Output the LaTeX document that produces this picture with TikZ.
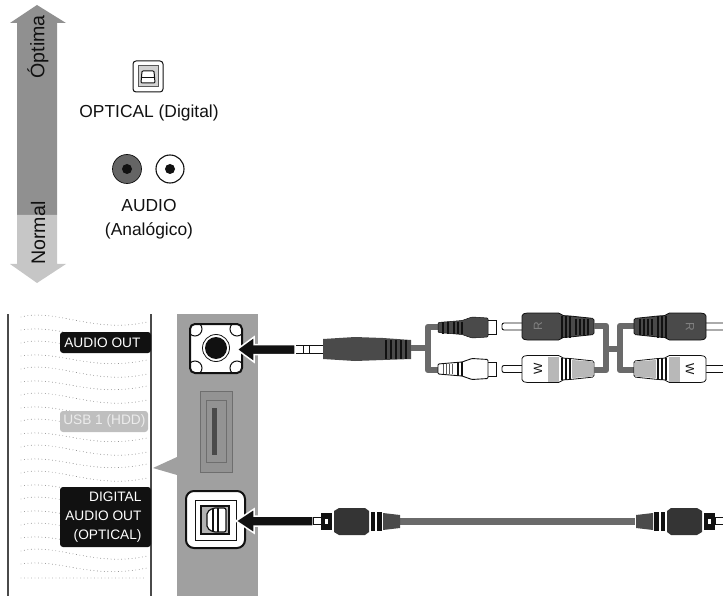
\documentclass[tikz,border=0pt]{standalone}
\usepackage{fontspec}
\setmainfont{Liberation Sans}
\usetikzlibrary{calc}
\definecolor{panel}{HTML}{A0A0A0}
\definecolor{ink}{HTML}{111111}
\definecolor{shell}{HTML}{4A4A4A}
\definecolor{wire}{HTML}{6A6A6A}
\definecolor{hatch}{HTML}{B8B8B8}
\tikzset{
  caption/.style={text=ink,font=\fontsize{17.4}{24}\selectfont,align=center},
  scalelabel/.style={rotate=90,text=ink,font=\fontsize{19.6}{20}\selectfont},
  tag/.style={text=white,font=\fontsize{13.7}{19}\selectfont,align=right,anchor=east},
  dots/.style={gray,line width=0.9pt,line cap=round,dash pattern=on 0pt off 3.5pt},
  cord/.style={wire,line width=6.5pt,line join=round},
  pointer/.style={fill=ink,draw=white,line width=1.5pt,line join=miter}
}
% male plug: pin tip at the origin, tail towards +x
\newcommand{\rcamale}[5]{%
  \draw[ink,fill=white,line width=0.9pt,rounded corners=2pt] (0,-3.5) rectangle (23,3.5);
  \fill[#1,draw=ink,line width=0.8pt,rounded corners=1.5pt] (20,-12) -- (24,-13.5) -- (58,-13.5) -- (60,-11) -- (68,-10.5) -- (92,-8)
     -- (92,8) -- (68,10.5) -- (60,11) -- (58,13.5) -- (24,13.5) -- (20,12) -- cycle;
  \fill[#2] (46,-12.5) rectangle (57,12.5);
  \fill[#2] (70,-9) -- (91,-7.5) -- (91,7.5) -- (70,9) -- cycle;
  \foreach \rib in {60,64,68} {
    \draw[ink,line width=1.3pt] (\rib,-11) -- (\rib,11);
  }
  \node[rotate=#5,text=#3,font=\fontsize{12}{12}\selectfont] at (36,0) {#4};
}
\begin{document}
\begin{tikzpicture}[x=1pt,y=-1pt]
  \useasboundingbox (0,0) rectangle (723,596);
  % quality scale
  \fill[panel!90!black] (37,5) -- (66,23) -- (57,23) -- (57,215) -- (17,215) -- (17,23) -- (10,23) -- cycle;
  \fill[gray!45] (17,215) -- (57,215) -- (57,264) -- (66,264) -- (37,283) -- (10,264) -- (17,264) -- cycle;
  \node[scalelabel] (best) at (38,47) {Óptima};
  \node[scalelabel] (normal) at (38,233) {Normal};
  % sockets of the legend
  \draw[ink,line width=1pt,fill=white,rounded corners=3pt] (133,61) rectangle (163,92);
  \draw[ink!70,line width=1pt,fill=gray!35] (138,66) rectangle (158,87);
  \draw[ink,line width=1pt,fill=white,rounded corners=1pt] (142,71) -- (154,71) -- (155,83) -- (141,83) -- cycle;
  \draw[ink,line width=0.8pt] (141,77) -- (155,77);
  \node[caption] (optical) at (149,113) {OPTICAL (Digital)};
  \draw[ink,line width=0.7pt,fill=shell!85] (127,169) circle (14.5);
  \fill[ink] (127,169) circle (5);
  \draw[ink,line width=1.1pt,fill=white] (170,169) circle (14);
  \fill[ink] (170,169) circle (5);
  \node[caption] (audio) at (149,219) {AUDIO\\(Analógico)};
  % back of the set
  \foreach \y in {314,340,...,548} {
    \draw[dots] (21,\y+3) .. controls (55,\y-6) and (95,\y+20) .. (147,\y+8);
    \draw[dots] (21,\y+16) .. controls (60,\y+10) and (90,\y+32) .. (147,\y+20);
  }
  \draw[dots] (21,578) -- (147,578);
  \fill[panel] (177,314) rectangle (258,596);
  \fill[panel] (153,468) -- (177,457) -- (177,475) -- cycle;
  \draw[shell,line width=1.5pt] (8,314) -- (8,596);
  \draw[shell,line width=1.2pt] (151,314) -- (151,596);
  \fill[ink,rounded corners=3pt] (151,332) -- (60,332) -- (60,353) -- (151,353) -- cycle;
  \node[tag] (audioout) at (144,343) {AUDIO OUT};
  \fill[gray!50,rounded corners=3pt] (148,411) -- (60,411) -- (60,432) -- (148,432) -- cycle;
  \node[tag,text=gray!15] (usb) at (149,421) {USB 1 (HDD)};
  \fill[ink,rounded corners=3pt] (151,487) -- (60,487) -- (60,547) -- (151,547) -- cycle;
  \node[tag] (digital) at (145,517) {DIGITAL\\AUDIO OUT\\(OPTICAL)};
  % audio jack
  \fill[white,rounded corners=5pt] (190,324) rectangle (242,373);
  \begin{scope}
    \clip[rounded corners=5pt] (190,324) rectangle (242,373);
    \foreach \cx/\cy in {195/329,237/329,195/368,237/368} {
      \draw[ink,line width=1pt] (\cx,\cy) circle (7);
    }
  \end{scope}
  \draw[ink,line width=2pt,rounded corners=5pt] (190,324) rectangle (242,373);
  \draw[ink,line width=0.8pt,fill=white] (216,348) circle (13.5);
  \fill[ink] (216,348) circle (11);
  % usb slot
  \draw[shell!80,line width=0.8pt,fill=panel!92!black] (200,391) rectangle (232,472);
  \draw[shell!80,line width=1pt] (206,400) rectangle (226,462);
  \fill[shell] (212,408) rectangle (217,455);
  % optical jack
  \draw[ink,line width=2pt,fill=white,rounded corners=8pt] (186,491) rectangle (245,548);
  \draw[ink,line width=1pt,fill=white] (195,500) rectangle (236,540);
  \draw[ink,line width=1.4pt,fill=gray!60] (201,506) rectangle (229,534);
  \draw[ink,line width=1.2pt,fill=white,rounded corners=2pt] (226,508) -- (213,508) -- (207,512) -- (207,528) -- (213,532) -- (226,532) -- cycle;
  \draw[ink,line width=1.6pt] (213,508) -- (213,532) (218,508) -- (218,532);
  % jack cable
  \draw[ink,fill=white,line width=0.8pt] (290,345) rectangle (323,353);
  \draw[ink,line width=1pt] (303,345) -- (303,353) (309,345) -- (309,353);
  \draw[pointer] (237,349.5) -- (254,337) -- (254,344.5) -- (295,344.5) -- (295,354.5) -- (254,354.5) -- (254,362) -- cycle;
  \fill[shell] (323,339) -- (355,337) -- (383,338) -- (411,340) -- (411,359) -- (383,360) -- (355,361) -- (323,359) -- cycle;
  \foreach \rib in {386,391,396,401,406} {
    \draw[ink,line width=1.6pt] (\rib,340) -- (\rib,359);
  }
  \draw[cord] (411,348) -- (428,348);
  \draw[cord] (438,327) -- (428,327) -- (428,370) -- (438,370);
  % female ends
  \begin{scope}[shift={(496,327.5)}]
    \draw[ink,fill=white,line width=0.8pt] (-10,-7) rectangle (0,7);
    \fill[shell,draw=ink,line width=0.5pt,rounded corners=1pt] (-8,-9.5) -- (-24,-10.5) -- (-34,-7) -- (-58,-5) -- (-58,5) -- (-34,7) -- (-24,10.5) -- (-8,9.5) -- cycle;
    \foreach \rib in {-34,-38,-42,-48,-53} {
      \draw[ink,line width=1.2pt] (\rib,-6) -- (\rib,6);
    }
  \end{scope}
  \begin{scope}[shift={(496,369)}]
    \draw[ink,fill=white,line width=0.8pt] (-10,-7) rectangle (0,7);
    \fill[white,draw=ink,line width=0.9pt,rounded corners=1pt] (-8,-9.5) -- (-24,-10.5) -- (-34,-7) -- (-58,-5) -- (-58,5) -- (-34,7) -- (-24,10.5) -- (-8,9.5) -- cycle;
    \foreach \rib in {-34,-38} {
      \draw[ink,line width=1.4pt] (\rib,-7) -- (\rib,7);
    }
    \foreach \rib in {-44,-47,-50,-53} {
      \draw[ink!70,line width=0.8pt] (\rib,-5) -- (\rib,5);
    }
  \end{scope}
  % male ends
  \begin{scope}[shift={(502,326.5)}]
    \rcamale{shell}{shell}{gray}{R}{90}
    \foreach \rib in {74,78,82,86} {
      \draw[ink,line width=1.2pt] (\rib,-8) -- (\rib,8);
    }
  \end{scope}
  \begin{scope}[shift={(502,369)}]
    \rcamale{white}{hatch}{ink}{W}{90}
  \end{scope}
  \draw[cord] (594,326) -- (606,326) -- (606,370) -- (594,370);
  \draw[cord] (634,326) -- (620,326) -- (620,370) -- (634,370);
  \draw[cord] (606,349) -- (620,349);
  \begin{scope}[shift={(726,326.5)},xscale=-1]
    \rcamale{shell}{shell}{gray}{R}{-90}
    \foreach \rib in {74,78,82,86} {
      \draw[ink,line width=1.2pt] (\rib,-8) -- (\rib,8);
    }
  \end{scope}
  \begin{scope}[shift={(726,369)},xscale=-1]
    \rcamale{white}{hatch}{ink}{W}{-90}
  \end{scope}
  % optical cable
  \draw[wire,line width=7pt] (400,521) -- (635,521);
  \draw[pointer] (236,521) -- (254,509) -- (254,516) -- (313,516) -- (313,526) -- (254,526) -- (254,533) -- cycle;
  \foreach \dir/\x in {1/313,-1/723} {
    \begin{scope}[shift={(\x,521)},xscale=\dir]
      \draw[ink,fill=white,line width=0.6pt] (0,-3.5) rectangle (8,3.5);
      \fill[ink] (8,-8) rectangle (19,9);
      \fill[white] (12,-2.5) rectangle (15,2.5);
      \fill[shell!70!black] (21,-10) -- (26,-13) -- (52,-13) -- (56,-10) -- (56,11) -- (52,14) -- (26,14) -- (21,11) -- cycle;
      \fill[ink] (58,-9) rectangle (62,10);
      \fill[ink] (64,-9) rectangle (69,10);
      \fill[shell] (70,-8) -- (87,-6) -- (87,7) -- (70,9) -- cycle;
    \end{scope}
  }
\end{tikzpicture}
\end{document}
